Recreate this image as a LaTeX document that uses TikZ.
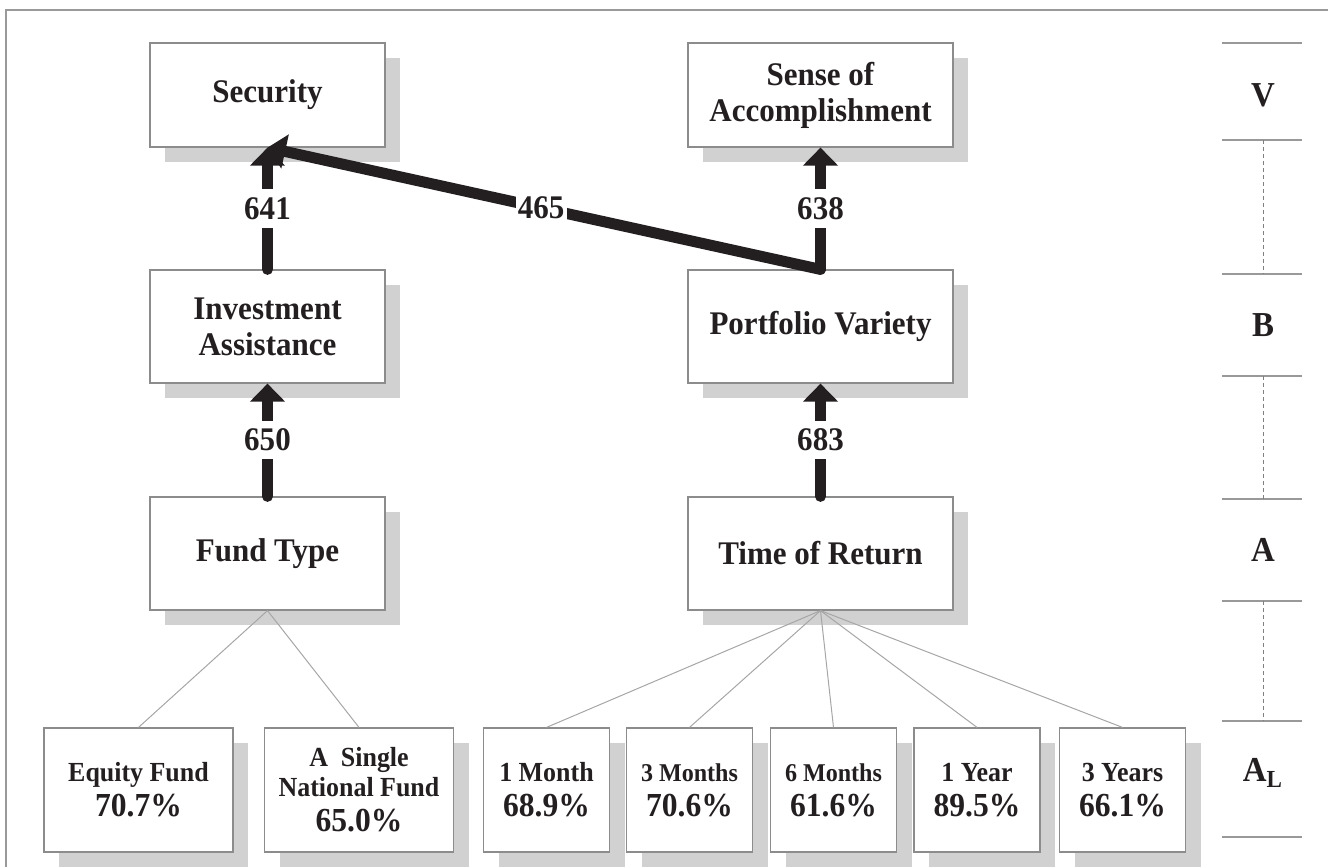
\documentclass[tikz,border=0pt]{standalone}
\usepackage{fontspec}
\setmainfont{Liberation Serif}[FakeStretch=0.94]
\usetikzlibrary{arrows.meta,shadows}
\definecolor{ink}{RGB}{35,31,32}

\begin{document}
\begin{tikzpicture}[x=0.5pt,y=-0.5pt]
	\tikzstyle{cpt}=[draw=black!45,line width=0.6pt,fill=white,inner sep=0pt,align=center,text=ink,font=\fontsize{16.5}{18}\selectfont\bfseries,drop shadow={shadow xshift=7.5pt,shadow yshift=-7.5pt,fill=black!18,opacity=1}]
	\tikzstyle{colL}=[cpt,minimum width=117.5pt,minimum height=56.5pt]
	\tikzstyle{colR}=[cpt,minimum width=132.5pt,minimum height=56.5pt]
	\tikzstyle{leaf}=[cpt,minimum width=63pt,minimum height=62pt,font=\fontsize{13.8}{17.5}\selectfont\bfseries]
	\tikzstyle{leafwide}=[leaf,minimum width=94.5pt]
	\tikzstyle{flow}=[draw=ink,line width=5.5pt,line cap=round,-{Triangle[width=17pt,length=9pt]}]
	\tikzstyle{wt}=[fill=white,text=ink,font=\fontsize{16.5}{18}\selectfont\bfseries,inner xsep=1pt,inner ysep=4pt]
	\tikzstyle{fan}=[draw=black!35,line width=0.5pt]
	\tikzstyle{tick}=[draw=black!40,line width=0.8pt]
	\tikzstyle{gap}=[draw=black!50,line width=0.5pt,dash pattern=on 2pt off 1.5pt]
	\tikzstyle{tier}=[text=ink,font=\fontsize{17.5}{18}\selectfont\bfseries]
	\useasboundingbox (0,0) rectangle (1328,867);
	\draw[draw=black!40,line width=1pt] (6,867) -- (6,10) -- (1328,10);
	
	% concept ladder
	\node[colL,minimum height=52pt](sec) at (267.5,95){Security};
	\node[colR,minimum height=52pt](sense) at (820.5,95){Sense of\\Accomplishment};
	\node[colL](inv) at (267.5,326.5){Investment\\Assistance};
	\node[colR](port) at (820.5,326.5){Portfolio Variety};
	\node[colL](fund) at (267.5,553.5){Fund Type};
	\node[colR](ret) at (820.5,553.5){Time of Return};
	
	% attribute levels
	\node[leafwide](eq) at (138.5,790){Equity Fund\\{\fontsize{16.8}{17.5}\selectfont 70.7\%}};
	\node[leafwide](nat) at (359,790){A\ \ Single\\[-2.5pt]National Fund\\{\fontsize{16.8}{17.5}\selectfont 65.0\%}};
	\foreach \n/\x/\t/\p/\s in {1/546.5/1 Month/68.9/13.8,2/689.5/3 Months/70.6/12.8,3/833.5/6 Months/61.6/12.8,4/977/1 Year/89.5/13.8,5/1122.5/3 Years/66.1/13.8}{
		\node[leaf](t\n) at (\x,790){{\fontsize{\s}{17.5}\selectfont\t}\\{\fontsize{16.8}{17.5}\selectfont \p\%}};
	};
	\path[fan] (fund.south) edge (eq.north)
	(fund.south) edge (nat.north);
	\foreach \n in {1,...,5}{
		\path[fan] (ret.south) edge (t\n.north);
	};
	
	% links
	\draw[flow] (port.north) -- (sec.south) node[pos=0.505,wt]{465};
	\draw[flow] (port.north) -- (sense.south) node[midway,wt]{638};
	\draw[flow] (inv.north) -- (sec.south) node[midway,wt]{641};
	\draw[flow] (fund.north) -- (inv.south) node[midway,wt]{650};
	\draw[flow] (ret.north) -- (port.south) node[midway,wt]{683};
	
	% level scale
	\foreach \y in {43,140,274,376,499,601,721,837}{
		\draw[tick] (1222,\y) -- (1302,\y);
	};
	\foreach \a/\b in {140/274,376/499,601/721}{
		\draw[gap] (1263,\a) -- (1263,\b);
	};
	\node[tier](lV) at (1263,95){V};
	\node[tier](lB) at (1263,325){B};
	\node[tier](lA) at (1263,550){A};
	\node[tier](lAL) at (1263,773){A\textsubscript{L}};
\end{tikzpicture}
\end{document}
